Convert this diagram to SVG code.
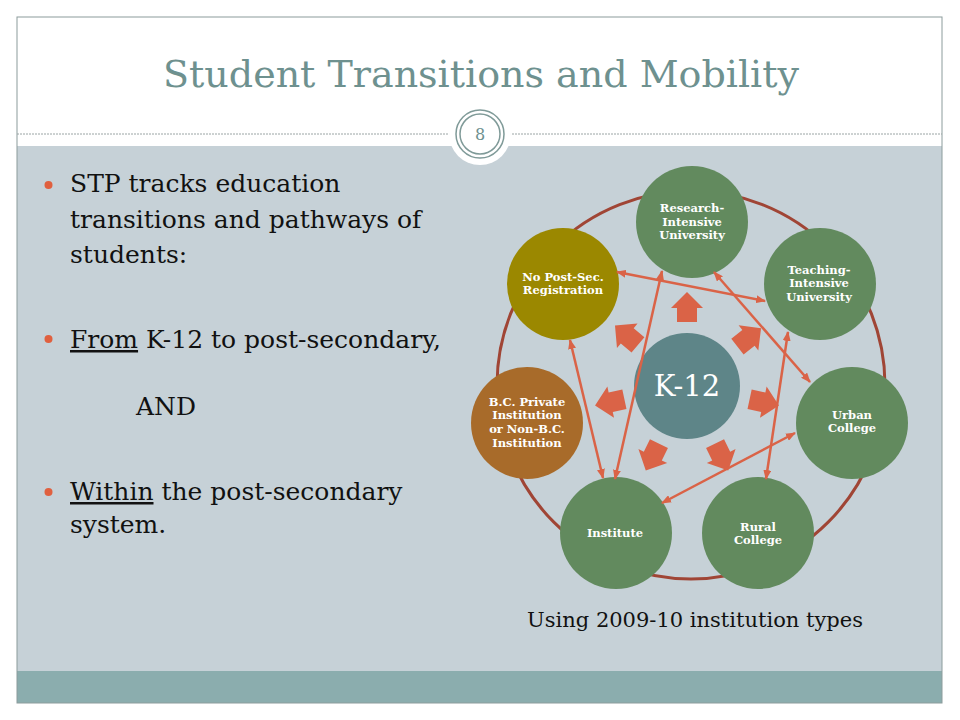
<svg xmlns="http://www.w3.org/2000/svg" width="960" height="720" viewBox="0 0 960 720">
<defs>
<style>
.title{font-family:"DejaVu Serif","Liberation Serif",serif;font-size:38px;fill:#6E918F}
.body{font-family:"DejaVu Serif","Liberation Serif",serif;font-size:25px;fill:#111}
.lbl{font-family:"DejaVu Serif","Liberation Serif",serif;font-size:11.5px;font-weight:bold;fill:#fff;text-anchor:middle}
.green{fill:#628A5E}
.conn{stroke:#DA6347;stroke-width:2.5;fill:none;marker-start:url(#ah);marker-end:url(#ah)}
.blk{fill:#DA6347}
.bul{fill:#E0603F}
</style>
<marker id="ah" viewBox="0 0 10 8" refX="9" refY="4" markerWidth="10" markerHeight="8" markerUnits="userSpaceOnUse" orient="auto-start-reverse">
<path d="M0,0 L10,4 L0,8 z" fill="#DA6347"/>
</marker>
<polygon id="blk" points="64,-10 78,-10 78,-16 94,0 78,16 78,10 64,10"/>
</defs>
<rect x="0" y="0" width="960" height="720" fill="#fff"/>
<rect x="17" y="146" width="925" height="525" fill="#C6D1D7"/>
<rect x="17" y="671" width="925" height="32" fill="#8BADAE"/>
<rect x="17" y="17" width="925" height="686" fill="none" stroke="#8C9C9C" stroke-width="1"/>
<line x1="17" y1="134" x2="942" y2="134" stroke="#9AA4A4" stroke-width="1" stroke-dasharray="2,1"/>
<g id="page-number">
<circle cx="480" cy="134" r="31" fill="#fff"/>
<circle cx="480" cy="134" r="24" fill="#fff" stroke="#7F9A98" stroke-width="1.5"/>
<circle cx="480" cy="134" r="20" fill="none" stroke="#7F9A98" stroke-width="1.5"/>
<text x="480" y="140" font-family="DejaVu Serif, Liberation Serif, serif" font-size="16" fill="#6E918F" text-anchor="middle">8</text>
</g>
<text class="title" x="481" y="87" text-anchor="middle">Student Transitions and Mobility</text>

<g id="bullets">
<circle class="bul" cx="48.5" cy="185" r="4"/>
<circle class="bul" cx="48.5" cy="339" r="4"/>
<circle class="bul" cx="48.5" cy="492" r="4"/>
<text class="body" x="70" y="192">STP tracks education</text>
<text class="body" x="70" y="228">transitions and pathways of</text>
<text class="body" x="70" y="263">students:</text>
<text class="body" x="70" y="348"><tspan text-decoration="underline">From</tspan> K-12 to post-secondary,</text>
<text class="body" x="136" y="415">AND</text>
<text class="body" x="70" y="500"><tspan text-decoration="underline">Within</tspan> the post-secondary</text>
<text class="body" x="70" y="533">system.</text>
</g>

<circle id="ring" cx="691" cy="385" r="194" fill="none" stroke="#A04535" stroke-width="3"/>

<g id="node-research">
<circle class="green" cx="692" cy="222" r="56"/>
<text class="lbl" x="692" y="212">Research-</text>
<text class="lbl" x="692" y="226">Intensive</text>
<text class="lbl" x="692" y="239">University</text>
</g>
<g id="node-teaching">
<circle class="green" cx="820" cy="284" r="56"/>
<text class="lbl" x="819" y="274">Teaching-</text>
<text class="lbl" x="819" y="287">Intensive</text>
<text class="lbl" x="819" y="301">University</text>
</g>
<g id="node-urban">
<circle class="green" cx="852" cy="423" r="56"/>
<text class="lbl" x="852" y="419">Urban</text>
<text class="lbl" x="852" y="432">College</text>
</g>
<g id="node-rural">
<circle class="green" cx="758" cy="533" r="56"/>
<text class="lbl" x="758" y="531">Rural</text>
<text class="lbl" x="758" y="544">College</text>
</g>
<g id="node-institute">
<circle class="green" cx="616" cy="533" r="56"/>
<text class="lbl" x="615" y="537">Institute</text>
</g>
<g id="node-bc">
<circle cx="527" cy="423" r="56" fill="#A86B2A"/>
<text class="lbl" x="527" y="406">B.C. Private</text>
<text class="lbl" x="527" y="419">Institution</text>
<text class="lbl" x="527" y="433">or Non-B.C.</text>
<text class="lbl" x="527" y="447">Institution</text>
</g>
<g id="node-nopost">
<circle cx="563" cy="284" r="56" fill="#9B8800"/>
<text class="lbl" x="563" y="281">No Post-Sec.</text>
<text class="lbl" x="563" y="294">Registration</text>
</g>
<g id="node-k12">
<circle cx="687" cy="386" r="53" fill="#5E8588"/>
<text x="687" y="396" font-family="DejaVu Serif, Liberation Serif, serif" font-size="29" fill="#fff" text-anchor="middle">K-12</text>
</g>

<g id="block-arrows" class="blk">
<use href="#blk" transform="translate(687,386) rotate(-90)"/>
<use href="#blk" transform="translate(687,386) rotate(-38)"/>
<use href="#blk" transform="translate(687,386) rotate(12)"/>
<use href="#blk" transform="translate(687,386) rotate(64)"/>
<use href="#blk" transform="translate(687,386) rotate(116)"/>
<use href="#blk" transform="translate(687,386) rotate(168)"/>
<use href="#blk" transform="translate(687,386) rotate(-140)"/>
</g>

<g id="connectors">
<line class="conn" x1="617" y1="272" x2="765" y2="301"/>
<line class="conn" x1="714" y1="272" x2="810" y2="382"/>
<line class="conn" x1="570" y1="340" x2="603" y2="478"/>
<line class="conn" x1="662" y1="271" x2="615" y2="479"/>
<line class="conn" x1="788" y1="332" x2="766" y2="479"/>
<line class="conn" x1="795" y1="433" x2="662" y2="503"/>
</g>

<text x="695" y="627" font-family="DejaVu Serif, Liberation Serif, serif" font-size="21" fill="#111" text-anchor="middle">Using 2009-10 institution types</text>
</svg>
